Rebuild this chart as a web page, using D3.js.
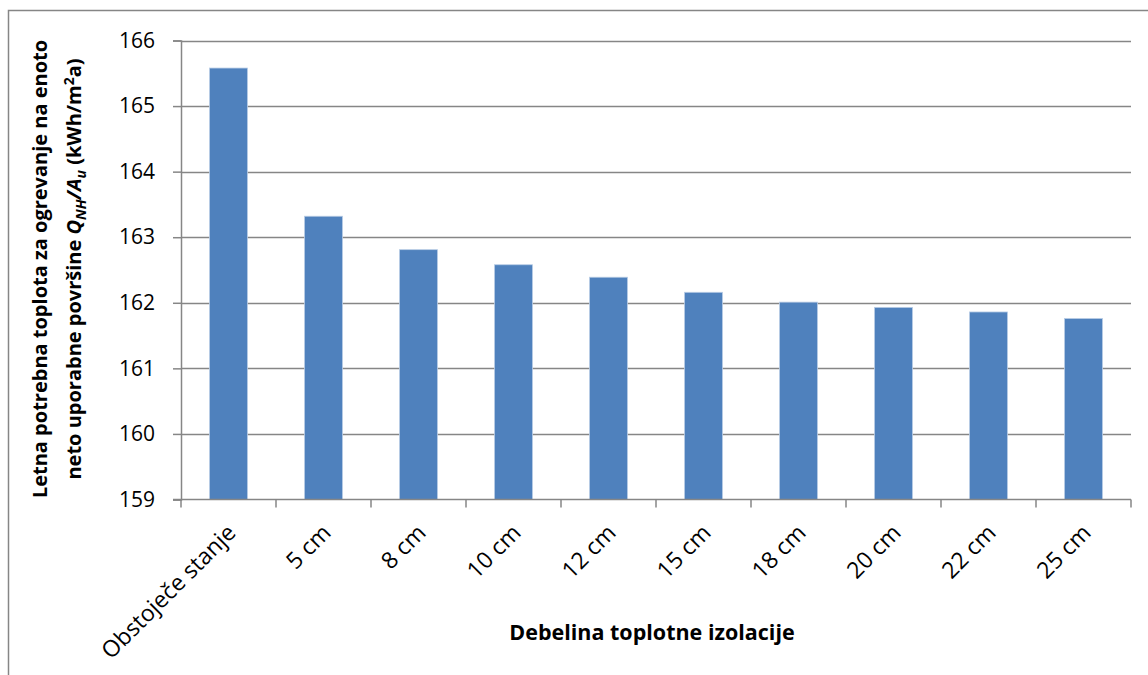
<!DOCTYPE html>
<html>
<head>
<meta charset="utf-8">
<script src="https://cdn.jsdelivr.net/npm/d3@7/dist/d3.min.js"></script>
<style>
  html, body { margin: 0; padding: 0; background: #fff; }
  svg { display: block; }
  text { font-family: "Open Sans", "Liberation Sans", sans-serif; fill: #000; }
</style>
</head>
<body>
<svg id="chart" width="1148" height="675"></svg>
<script>
// Heating demand per unit of net usable floor area, by insulation thickness
const categories = ["Obstoječe stanje", "5 cm", "8 cm", "10 cm", "12 cm", "15 cm", "18 cm", "20 cm", "22 cm", "25 cm"];
const values = [165.58, 163.32, 162.81, 162.58, 162.39, 162.16, 162.01, 161.93, 161.86, 161.76];
const yTicks = [159, 160, 161, 162, 163, 164, 165, 166];
const xTitle = "Debelina toplotne izolacije";

const svg = d3.select("#chart");
const plot = { left: 181, right: 1131, top: 40.5, bottom: 499.5 };

// outer chart frame
svg.append("rect")
  .attr("x", 8.5).attr("y", 10.5)
  .attr("width", 1200).attr("height", 800)
  .attr("fill", "none").attr("stroke", "#868686").attr("stroke-width", 1.5);

const x = d3.scaleBand().domain(categories).range([plot.left, plot.right]).paddingInner(0.6).paddingOuter(0.3);
const y = d3.scaleLinear().domain([159, 166]).range([plot.bottom, plot.top]);

// horizontal gridlines
svg.append("g").selectAll("line").data(yTicks.filter(t => t > 159)).join("line")
  .attr("x1", plot.left).attr("x2", plot.right)
  .attr("y1", d => Math.round(y(d)) + 0.5).attr("y2", d => Math.round(y(d)) + 0.5)
  .attr("stroke", "#868686").attr("stroke-width", 1.5);

// bars
svg.append("g").selectAll("rect").data(values).join("rect")
  .attr("x", (d, i) => x(categories[i]))
  .attr("width", x.bandwidth())
  .attr("y", d => y(d))
  .attr("height", d => y(159) - y(d))
  .attr("fill", "#4F81BD")
  .attr("stroke", "#B9CDE5").attr("stroke-width", 0.8);

// y axis
const yAxis = svg.append("g")
  .attr("transform", `translate(${plot.left},0)`)
  .call(d3.axisLeft(y).tickValues(yTicks).tickSize(8).tickPadding(18).tickFormat(d3.format("d")));
yAxis.select(".domain").attr("stroke", "#868686").attr("stroke-width", 1.5);
yAxis.selectAll(".tick line").attr("stroke", "#868686").attr("stroke-width", 1.5);
yAxis.selectAll(".tick text")
  .style("font-size", "21px").style("font-family", "'Open Sans', sans-serif").attr("fill", "#000");

// x axis with boundary ticks between categories
const boundaries = d3.range(categories.length + 1).map(i => plot.left + i * (plot.right - plot.left) / categories.length);
const xg = svg.append("g");
xg.append("line")
  .attr("x1", plot.left - 8).attr("x2", plot.right)
  .attr("y1", plot.bottom).attr("y2", plot.bottom)
  .attr("stroke", "#868686").attr("stroke-width", 1.5);
xg.selectAll("line.tk").data(boundaries).join("line").attr("class", "tk")
  .attr("x1", d => d).attr("x2", d => d)
  .attr("y1", plot.bottom).attr("y2", plot.bottom + 8)
  .attr("stroke", "#868686").attr("stroke-width", 1.5);

// rotated category labels
xg.selectAll("text").data(categories).join("text")
  .attr("transform", d => `translate(${x(d) + x.bandwidth() / 2 + 3},${plot.bottom + 29}) rotate(-45)`)
  .attr("text-anchor", "end")
  .attr("dy", "0.35em")
  .style("font-size", "23px")
  .text(d => d);

// x axis title
svg.append("text")
  .attr("x", 652).attr("y", 640)
  .attr("text-anchor", "middle")
  .style("font-size", "21.5px").style("font-weight", "bold")
  .text(xTitle);

// y axis title (two lines, with italic symbols and subscripts)
const yTitle = svg.append("g").attr("transform", "translate(0,269) rotate(-90)");
yTitle.append("text")
  .attr("x", 0).attr("y", 47)
  .attr("text-anchor", "middle")
  .style("font-size", "20px").style("font-weight", "bold")
  .text("Letna potrebna toplota za ogrevanje na enoto");
const t2 = yTitle.append("text")
  .attr("x", 0).attr("y", 81)
  .attr("text-anchor", "middle")
  .style("font-size", "20px").style("font-weight", "bold");
t2.append("tspan").text("neto uporabne površine ");
t2.append("tspan").style("font-style", "italic").text("Q");
t2.append("tspan").style("font-style", "italic").style("font-size", "14px").attr("dy", 5).text("NH");
t2.append("tspan").style("font-style", "italic").attr("dy", -5).text("/A");
t2.append("tspan").style("font-style", "italic").style("font-size", "14px").attr("dy", 5).text("u");
t2.append("tspan").attr("dy", -5).text(" (kWh/m");
t2.append("tspan").style("font-size", "14px").attr("dy", -7).text("2");
t2.append("tspan").attr("dy", 7).text("a)");
</script>
</body>
</html>
